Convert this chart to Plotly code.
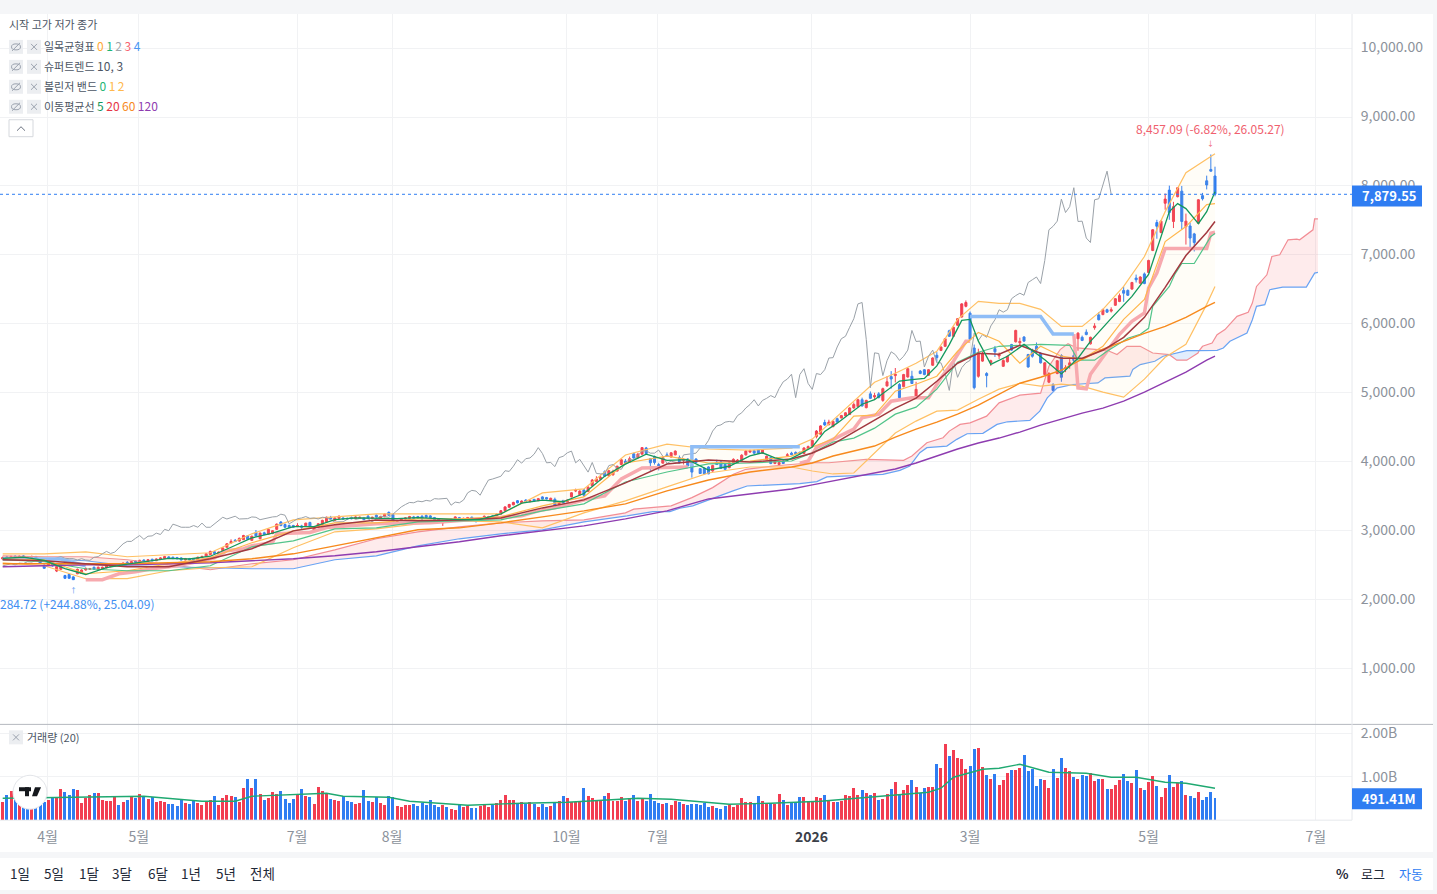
# Grafico azionario con indicatori (candele, ichimoku, supertrend, bollinger, medie) + volumi
import plotly.graph_objects as go

W, H = 1437, 894
PANE_RIGHT = 1352
MAIN_TOP, MAIN_BOTTOM, VOL_BOTTOM = 12, 724, 820

# ============================================================
# 1. DATI
# ============================================================

opens = [
    2590, 2620, 2600, 2630, 2610, 2635, 2620, 2600, 2625, 2590,
    2500, 2500, 2530, 2415, 2440, 2350, 2365, 2330, 2375, 2380,
    2430, 2440, 2470, 2435, 2450, 2460, 2480, 2490, 2520, 2510,
    2540, 2530, 2560, 2545, 2575, 2555, 2585, 2565, 2585, 2595,
    2620, 2615, 2610, 2605, 2575, 2595, 2590, 2575, 2610, 2625,
    2655, 2695, 2665, 2710, 2760, 2820, 2860, 2850, 2870, 2925,
    2860, 2975, 2885, 2970, 2950, 2960, 3020, 3125, 3090, 3075,
    3075, 3060, 3070, 3070, 3120, 3010, 3050, 3090, 3130, 3190,
    3150, 3180, 3185, 3180, 3190, 3175, 3180, 3185, 3210, 3175,
    3225, 3180, 3205, 3265, 3235, 3095, 3150, 3170, 3180, 3200,
    3205, 3210, 3220, 3215, 3190, 3170, 3115, 3150, 3135, 3175,
    3190, 3160, 3170, 3195, 3170, 3150, 3180, 3180, 3215, 3195,
    3240, 3290, 3340, 3375, 3435, 3405, 3445, 3420, 3455, 3435,
    3490, 3480, 3440, 3455, 3385, 3440, 3420, 3490, 3575, 3520,
    3590, 3570, 3650, 3715, 3745, 3855, 3795, 3810, 3865, 3960,
    4010, 3995, 4115, 4060, 4110, 4200, 4045, 4075, 3960, 3980,
    4100, 4070, 4100, 4060, 4020, 4040, 3950, 4040, 3900, 3905,
    3925, 3866, 3985, 3995, 3960, 3915, 3985, 3985, 4015, 4100,
    4140, 4160, 4170, 4125, 4030, 4060, 3975, 3960, 4010, 4090,
    4125, 4135, 4135, 4120, 4190, 4220, 4365, 4400, 4570, 4540,
    4510, 4625, 4635, 4665, 4685, 4780, 4800, 4900, 4785, 4985,
    4940, 4985, 4890, 5100, 5235, 5250, 5120, 5090, 5230, 5240,
    4950, 5315, 5335, 5255, 5400, 5545, 5615, 5675, 5900, 5820,
    5980, 6100, 6255, 6155, 5650, 5240, 5460, 5280, 5435, 5640,
    5535, 5385, 5450, 5700, 5740, 5725, 5810, 5555, 5615, 5675,
    5575, 5265, 5155, 5120, 5280, 5540, 5345, 5400, 5540, 5785,
    5805, 5880, 5710, 5945, 6130, 6135, 6205, 6185, 6270, 6325,
    6485, 6485, 6505, 6665, 6590, 6725, 6745, 7065, 7470, 7325,
    7750, 7940, 7485, 7845, 7925, 7410, 7420, 7305, 7460, 7860,
    8075, 8240, 8145,
]
closes = [
    2610, 2600, 2625, 2610, 2630, 2615, 2600, 2625, 2600, 2530,
    2455, 2535, 2490, 2480, 2490, 2310, 2310, 2290, 2440, 2430,
    2450, 2450, 2440, 2470, 2470, 2490, 2500, 2520, 2505, 2530,
    2525, 2550, 2545, 2570, 2555, 2580, 2565, 2590, 2605, 2625,
    2600, 2595, 2595, 2575, 2595, 2575, 2570, 2615, 2625, 2665,
    2700, 2670, 2690, 2750, 2810, 2845, 2845, 2890, 2930, 2875,
    2920, 2925, 2965, 2945, 3020, 3000, 3095, 3075, 3050, 3050,
    3050, 3075, 3050, 3110, 3050, 3050, 3100, 3150, 3195, 3170,
    3185, 3210, 3170, 3170, 3175, 3200, 3195, 3160, 3175, 3195,
    3200, 3205, 3240, 3225, 3100, 3135, 3175, 3185, 3205, 3180,
    3185, 3170, 3195, 3190, 3160, 3125, 3130, 3130, 3165, 3200,
    3165, 3180, 3190, 3175, 3130, 3175, 3210, 3205, 3195, 3240,
    3290, 3345, 3380, 3410, 3405, 3430, 3420, 3440, 3430, 3465,
    3460, 3460, 3470, 3370, 3415, 3405, 3445, 3550, 3585, 3575,
    3515, 3630, 3735, 3750, 3775, 3790, 3870, 3860, 3935, 4030,
    3980, 4045, 4055, 4110, 4205, 4120, 3985, 3990, 3930, 4060,
    4080, 4130, 4155, 3985, 4035, 3940, 3850, 3990, 3830, 3825,
    3825, 3945, 3960, 3905, 3890, 3985, 4035, 4025, 4095, 4155,
    4160, 4125, 4125, 4170, 4080, 3975, 4010, 3990, 3975, 4100,
    4105, 4115, 4125, 4200, 4220, 4310, 4445, 4520, 4535, 4575,
    4585, 4575, 4670, 4710, 4780, 4830, 4900, 4810, 4890, 4920,
    4960, 4930, 5060, 5160, 5200, 5270, 4930, 5265, 5350, 5135,
    5050, 5280, 5265, 5335, 5505, 5510, 5665, 5785, 5820, 5950,
    6075, 6290, 6310, 5775, 5075, 5580, 5570, 5250, 5465, 5595,
    5555, 5470, 5530, 5620, 5905, 5745, 5750, 5375, 5530, 5620,
    5435, 5435, 5280, 5035, 5465, 5225, 5365, 5435, 5470, 5865,
    5760, 5845, 5805, 5970, 6060, 6205, 6170, 6205, 6365, 6410,
    6445, 6415, 6600, 6640, 6680, 6585, 6920, 7365, 7415, 7490,
    7810, 7615, 7700, 7975, 7485, 7490, 7245, 7180, 7800, 7815,
    8015, 8215, 7879.55,
]
highs = [
    2625, 2635, 2640, 2645, 2640, 2645, 2630, 2640, 2635, 2600,
    2510, 2545, 2540, 2490, 2500, 2360, 2375, 2340, 2450, 2440,
    2470, 2460, 2480, 2480, 2480, 2500, 2510, 2530, 2530, 2540,
    2560, 2560, 2570, 2580, 2585, 2590, 2595, 2600, 2615, 2635,
    2630, 2625, 2620, 2615, 2605, 2605, 2600, 2625, 2640, 2675,
    2710, 2705, 2700, 2760, 2820, 2875, 2880, 2900, 2940, 2935,
    2930, 3010, 2975, 2985, 3030, 3010, 3105, 3140, 3105, 3090,
    3085, 3110, 3085, 3115, 3130, 3060, 3110, 3160, 3205, 3215,
    3195, 3220, 3195, 3190, 3200, 3210, 3205, 3200, 3240, 3205,
    3235, 3215, 3250, 3280, 3245, 3140, 3185, 3195, 3215, 3215,
    3215, 3225, 3235, 3225, 3200, 3180, 3135, 3160, 3175, 3210,
    3200, 3190, 3200, 3205, 3180, 3185, 3220, 3215, 3225, 3250,
    3300, 3355, 3390, 3420, 3445, 3440, 3455, 3450, 3460, 3475,
    3500, 3490, 3480, 3480, 3425, 3445, 3455, 3560, 3610, 3585,
    3605, 3650, 3750, 3790, 3815, 3875, 3880, 3885, 3945, 4045,
    4040, 4075, 4130, 4130, 4210, 4215, 4055, 4090, 3985, 4070,
    4135, 4140, 4165, 4090, 4050, 4050, 3960, 4050, 3905, 3915,
    3935, 3955, 4030, 4020, 3975, 3995, 4050, 4040, 4110, 4165,
    4175, 4175, 4185, 4180, 4090, 4070, 4020, 4005, 4020, 4125,
    4145, 4150, 4150, 4210, 4235, 4320, 4460, 4530, 4610, 4610,
    4600, 4640, 4680, 4720, 4790, 4860, 4915, 4930, 4900, 5020,
    5000, 5010, 5075, 5240, 5315, 5360, 5140, 5275, 5365, 5320,
    5160, 5330, 5345, 5345, 5515, 5590, 5675, 5795, 5915, 5960,
    6085, 6300, 6340, 6180, 5700, 5640, 5600, 5300, 5480, 5680,
    5585, 5485, 5540, 5710, 5915, 5800, 5820, 5565, 5640, 5730,
    5590, 5445, 5300, 5140, 5475, 5560, 5400, 5500, 5620, 5880,
    5830, 5920, 5815, 6010, 6170, 6220, 6220, 6240, 6375, 6440,
    6540, 6500, 6610, 6715, 6690, 6745, 6930, 7375, 7510, 7500,
    7890, 8005, 7770, 7985, 8000, 7600, 7470, 7320, 7810, 7900,
    8150, 8457.09, 8280,
]
lows = [
    2580, 2590, 2590, 2600, 2600, 2605, 2590, 2595, 2590, 2520,
    2450, 2490, 2480, 2400, 2430, 2300, 2305, 2284.72, 2370, 2375,
    2420, 2430, 2430, 2425, 2445, 2455, 2470, 2480, 2495, 2500,
    2520, 2520, 2535, 2540, 2545, 2550, 2555, 2560, 2580, 2590,
    2590, 2590, 2585, 2570, 2570, 2570, 2565, 2570, 2600, 2620,
    2650, 2660, 2660, 2700, 2750, 2815, 2835, 2840, 2865, 2870,
    2855, 2910, 2875, 2935, 2945, 2950, 3010, 3065, 3040, 3040,
    3045, 3055, 3010, 3060, 3040, 3005, 3040, 3085, 3125, 3160,
    3145, 3170, 3165, 3160, 3165, 3170, 3170, 3155, 3170, 3170,
    3190, 3175, 3195, 3215, 3090, 3090, 3140, 3165, 3175, 3170,
    3175, 3160, 3190, 3185, 3150, 3120, 3070, 3125, 3130, 3170,
    3160, 3155, 3165, 3165, 3125, 3145, 3175, 3170, 3185, 3190,
    3235, 3285, 3335, 3370, 3395, 3400, 3410, 3415, 3425, 3430,
    3455, 3455, 3435, 3365, 3380, 3400, 3415, 3485, 3560, 3515,
    3490, 3560, 3645, 3705, 3730, 3785, 3790, 3800, 3860, 3955,
    3975, 3985, 4045, 4050, 4105, 4115, 3870, 3960, 3875, 3975,
    4070, 4060, 4095, 3975, 3960, 3935, 3770, 3985, 3825, 3815,
    3820, 3855, 3955, 3895, 3885, 3905, 3975, 3980, 4005, 4090,
    4130, 4115, 4115, 4115, 4025, 3965, 3965, 3955, 3970, 4085,
    4095, 4100, 4110, 4115, 4180, 4210, 4340, 4395, 4520, 4525,
    4500, 4570, 4630, 4660, 4680, 4770, 4790, 4800, 4775, 4910,
    4900, 4920, 4870, 5090, 5060, 5150, 4920, 5080, 5220, 5130,
    4910, 5270, 5255, 5245, 5390, 5450, 5605, 5665, 5810, 5810,
    5970, 6090, 6240, 5760, 5050, 5220, 5450, 5080, 5390, 5520,
    5490, 5375, 5440, 5610, 5730, 5680, 5740, 5365, 5510, 5570,
    5425, 5255, 5140, 5020, 5270, 5160, 5300, 5350, 5440, 5610,
    5750, 5835, 5700, 5915, 6050, 6125, 6160, 6165, 6260, 6315,
    6320, 6405, 6495, 6600, 6580, 6575, 6735, 7055, 7235, 7315,
    7655, 7510, 7390, 7835, 7370, 7150, 7100, 7050, 7450, 7790,
    7950, 8210, 7850,
]

# volumi in milioni
volume = [
    416, 578, 670, 554, 424, 308, 270, 270, 293, 347,
    416, 462, 531, 508, 716, 647, 578, 716, 693, 393,
    508, 578, 624, 624, 462, 439, 439, 554, 347, 416,
    462, 539, 508, 601, 554, 485, 524, 416, 439, 416,
    370, 370, 323, 485, 393, 370, 462, 393, 347, 416,
    462, 554, 347, 508, 578, 554, 531, 416, 739, 947,
    739, 947, 601, 462, 508, 647, 601, 670, 485, 393,
    485, 578, 716, 554, 531, 370, 762, 670, 624, 485,
    462, 439, 554, 439, 416, 370, 393, 693, 439, 416,
    531, 393, 347, 554, 531, 323, 300, 347, 347, 370,
    323, 393, 347, 462, 347, 300, 347, 300, 254, 231,
    347, 300, 323, 277, 277, 323,
    339, 300, 339, 393, 462, 578, 462, 462, 393,
    416, 370, 416, 370, 300, 370, 300, 323, 416, 439,
    554, 508, 416, 416, 439, 739, 554, 508, 439, 439,
    554, 624, 439, 439, 531, 439, 485, 578, 439, 485,
    439, 601, 439, 393, 370, 393, 347, 439, 416, 370,
    347, 370, 370, 347, 393, 300, 323, 277, 254, 323,
    347, 300, 347, 508, 416, 416, 370, 554, 439, 370,
    393, 370, 601, 462, 347, 416, 393, 531, 531, 439,
    439, 531, 508, 578, 462, 416, 416, 439, 578, 554,
    739, 578, 693, 624, 578, 624, 462, 485, 601, 716,
    878, 601, 693, 809, 924, 762, 624, 739, 762,
    762, 1294, 1201, 1756, 1478, 1617, 1432, 1409, 1178, 1247,
    1640, 1663, 1224, 1040, 947, 1063, 809, 924, 1086, 1155,
    1155, 1201, 1502, 1132, 1178, 785, 947, 924, 739, 1178,
    970, 1432, 1201, 1132, 993, 947, 1040, 1016, 1086, 901,
    947, 947, 716, 716, 809, 924, 1063, 901, 855, 1155,
    739, 693, 878, 1016, 785, 531, 739, 1040, 762, 855,
    901, 578, 554, 508, 647, 462, 531, 647, 491.41,
]

vol_ma_x = [0, 15, 34, 48, 56, 60, 72, 78, 82, 93, 98, 112, 125, 136, 153, 161, 175,
            185, 197, 209, 216, 223, 226, 229, 236, 240, 245, 252, 261, 267, 273, 280, 285, 292]
vol_ma = [506, 529, 552, 437, 437, 552, 598, 621, 552, 529, 437, 345, 391, 414, 506, 483, 368,
          391, 437, 529, 575, 644, 736, 989, 1173, 1196, 1288, 1104, 1081, 989, 989, 874, 851, 736]

# barre su cui leggo gli indicatori
line_x = [0, 10, 20, 30, 40, 50, 60, 70, 80, 90, 100, 110, 120, 130, 140, 150, 160, 170, 180, 190,
          195, 200, 205, 210, 215, 220, 225, 230, 235, 240, 245, 250, 255, 260, 265, 270, 275, 280, 285, 290, 292]

ma20 = [2579, 2564, 2521, 2477, 2477, 2593, 2738, 2998, 3085, 3157, 3143, 3157, 3186, 3331, 3447, 3693, 3968, 4025, 3996, 4040,
        4127, 4257, 4431, 4604, 4778, 4923, 5168, 5429, 5574, 5559, 5689, 5574, 5502, 5502, 5617, 5805, 6095, 6529, 6992, 7325, 7484]
ma60 = [2521, 2521, 2521, 2521, 2535, 2550, 2593, 2665, 2781, 2897, 3013, 3042, 3114, 3201, 3288, 3389, 3577, 3736, 3852, 3924,
        3982, 4083, 4156, 4228, 4358, 4474, 4575, 4691, 4821, 4980, 5139, 5226, 5328, 5487, 5632, 5747, 5863, 5964, 6095, 6254, 6312]
ma120 = [2477, 2492, 2506, 2506, 2521, 2535, 2564, 2593, 2636, 2694, 2767, 2839, 2926, 2998, 3070, 3172, 3288, 3461, 3534, 3606,
         3664, 3722, 3780, 3837, 3895, 3982, 4083, 4185, 4272, 4344, 4431, 4532, 4619, 4706, 4778, 4879, 5010, 5154, 5299, 5473, 5531]
bb_upper = [2665, 2665, 2694, 2622, 2651, 2680, 2955, 3157, 3201, 3244, 3244, 3244, 3244, 3548, 3606, 4098, 4257, 4185, 4170, 4199,
            4329, 4604, 4879, 5154, 5284, 5429, 5603, 6066, 6326, 6297, 6297, 6210, 5964, 5964, 6210, 6543, 6977, 7628, 8193, 8381, 8468]
bb_lower = [2535, 2492, 2304, 2304, 2419, 2463, 2477, 2752, 2984, 3027, 3100, 3143, 3128, 3042, 3259, 3432, 3635, 3837, 3924, 3924,
            3866, 3823, 3837, 4127, 4416, 4590, 4734, 4749, 4908, 5053, 5139, 5096, 5125, 5096, 5010, 4937, 5198, 5516, 5704, 6283, 6543]
tenkan = [2593, 2579, 2376, 2419, 2521, 2608, 2825, 2998, 3114, 3114, 3172, 3172, 3201, 3360, 3490, 3982, 4083, 3982, 4011, 4083,
          4214, 4329, 4662, 4677, 5024, 5125, 5241, 5603, 5877, 5747, 5429, 5675, 5531, 5487, 5675, 6066, 6355, 7194, 7411, 7729, 7744]

kijun_x = [0, 10, 20, 30, 40, 50, 60, 70, 80, 90, 100, 110, 120, 130, 140, 150, 160, 170, 180, 190,
           195, 200, 205, 210, 215, 220, 225, 230, 235, 240, 245, 250, 257, 259, 263, 266, 271, 274, 276, 277,
           281, 282.3, 284, 287, 291, 292]
kijun = [2579, 2550, 2448, 2419, 2419, 2492, 2767, 2853, 3027, 3042, 3128, 3143, 3157, 3288, 3389, 3707, 3852, 3968, 3982, 4011,
         4127, 4286, 4344, 4488, 4691, 4792, 5053, 5444, 5589, 5675, 5689, 5703, 5689, 5473, 5473, 5603, 5791, 5849, 5935, 6254,
         6543, 6717, 6876, 6876, 7267, 7310]

ma5_x = [0, 5, 10, 15, 20, 25, 30, 35, 40, 45, 50, 55, 60, 65, 70, 75, 80, 85, 90, 95, 100, 105, 110, 115,
         120, 125, 130, 135, 140, 145, 150, 155, 160, 165, 170, 175, 180, 183, 186, 189, 192, 195, 198, 201,
         204, 207, 210, 213, 216, 219, 222, 225, 228, 231, 233, 235, 238, 242, 246, 251, 255, 259, 262, 267,
         272, 276, 278, 281, 283, 285, 288, 290, 292]
ma5 = [2600, 2618, 2570, 2450, 2365, 2465, 2515, 2555, 2600, 2590, 2630, 2760, 2895, 2965, 3060, 3060, 3160, 3185, 3185, 3175, 3190, 3175, 3160, 3165,
       3245, 3400, 3445, 3420, 3540, 3790, 3965, 4110, 4020, 4030, 3880, 3935, 4085, 4130, 4055, 4020, 4110, 4215, 4440, 4560,
       4700, 4835, 4900, 5040, 5170, 5190, 5210, 5390, 5700, 6050, 6065, 5750, 5414, 5530, 5703, 5480, 5274, 5502, 5747, 6080,
       6398, 6716, 7093, 7628, 7744, 7672, 7455, 7628, 7918]

# nuvola ichimoku (prosegue nel futuro); 281 e 288.2 sono i punti in cui A e B si incrociano
senkou_a_x = [0, 10, 20, 30, 40, 50, 60, 70, 80, 90, 100, 110, 120, 130, 140, 150, 152, 161, 166, 171, 176, 179,
              185.5, 192, 195, 199, 208, 217, 219, 222.6, 226.5, 228, 230.6, 233, 237, 240, 245, 250, 252, 254.7,
              256.6, 258.7, 266, 268.4, 270.8, 274, 277, 281, 282.8, 285.2, 287.9, 288.2, 289, 291.3, 292.5, 294.4,
              297.3, 300, 301, 302, 304.5, 305.7, 307.6, 309.6, 311.7, 312.4, 315.6, 316, 316.8]
senkou_a = [2636, 2622, 2622, 2579, 2506, 2434, 2521, 2579, 2723, 2883, 2984, 3056, 3114, 3143, 3157, 3259, 3312, 3360, 3480, 3625, 3818, 3891,
            3939, 3972, 3986, 3986, 4036, 4021, 4083, 4276, 4348, 4445, 4542, 4565, 4662, 4855, 4966, 4995, 5386, 5627,
            5714, 5651, 5617, 5555, 5675, 5675, 5578, 5553, 5473, 5473, 5578, 5613, 5675, 5723, 5844, 5917,
            6109, 6167, 6302, 6543, 6712, 6977, 7002, 7219, 7228, 7219, 7364, 7523, 7523]
senkou_b_x = [0, 10, 20, 30, 40, 50, 60, 70, 80, 90, 100, 110, 120, 130, 140, 150.4, 156.6, 160.7, 163.1, 166.2, 171, 175.9,
              179.3, 184, 192, 196.1, 198.5, 212, 216.1, 218.5, 220.9, 222.6, 227.4, 229.8, 232.3, 236.1, 239.5, 242, 247.4,
              249.8, 251.6, 254, 257.8, 263.8, 265.5, 271.5, 272.2, 274, 277.5, 279.5, 281, 282.8, 285.2, 288.2, 292.5,
              294, 295.6, 299.7, 301, 302, 304, 305.2, 308.3, 314, 316, 316.8]
senkou_b = [2593, 2593, 2564, 2492, 2477, 2463, 2448, 2448, 2579, 2636, 2781, 2883, 2955, 3013, 3128, 3215, 3278, 3278, 3326, 3360, 3471, 3577,
            3649, 3659, 3683, 3712, 3780, 3818, 3876, 3939, 4131, 4204, 4228, 4325, 4406, 4412, 4542, 4580, 4600,
            4734, 4927, 5072, 5121, 5144, 5216, 5241, 5338, 5410, 5458, 5530, 5553, 5578, 5613, 5613, 5617,
            5651, 5747, 5868, 6061, 6254, 6278, 6496, 6533, 6533, 6736, 6746]
cloud_cuts = [-1, 281, 288.2, 317]

# supertrend: tratti rialzisti (rosa) e ribassisti (blu)
st_down_x = [[0, 14, 16, 20], [166, 166, 192], [233, 250, 253, 258]]
st_down = [[2590, 2590, 2550, 2492], [3924, 4218, 4218], [6106, 6106, 5853, 5853]]
st_up_x = [
    [20, 24, 28, 32, 36, 42, 48, 51, 54, 58, 60, 65, 66, 74, 78, 90, 103, 120, 125, 129, 133, 141, 145, 149, 154, 165],
    [192, 194, 196, 201, 205, 207, 211, 214, 219, 223, 226, 229, 232, 233],
    [258, 259, 261, 262, 266, 269, 272, 275, 276, 278, 280, 290, 291, 292],
]
st_up = [
    [2289, 2289, 2376, 2405, 2448, 2492, 2564, 2608, 2709, 2738, 2781, 2829, 2955, 2974, 3046, 3100, 3114, 3186, 3215, 3288, 3331, 3461, 3504, 3751, 3910, 3924],
    [3980, 4011, 4204, 4348, 4474, 4638, 4691, 4879, 4927, 4927, 5216, 5458, 5747, 5747],
    [5853, 5072, 5057, 5270, 5603, 5849, 6037, 6157, 6519, 6736, 7093, 7093, 7314, 7329],
]

last_close = 7879.55
high_bar, high_value = 291, 8457.09
low_bar, low_value = 17, 2284.72

price_ticks = [1000, 2000, 3000, 4000, 5000, 6000, 7000, 8000, 9000, 10000]
month_ticks = [10.8, 32.8, 70.9, 93.8, 135.8, 157.8, 194.8, 233, 276, 316.3]
month_labels = ["4월", "5월", "7월", "8월", "10월", "7월", '<span style="color:#3b4048"><b>2026</b></span>', "3월", "5월", "7월"]
range_buttons = ["1일", "5일", "1달", "3달", "6달", "1년", "5년", "전체"]
range_buttons_x = [20, 54, 89, 122, 158, 191, 226, 262]

RED = "#f23d51"
BLUE = "#2f7df2"
FONT = "Noto Sans CJK KR"
bars = list(range(len(closes)))


def px(x):
    return x / W


def py(y):
    return 1 - y / H


def label(x, y, text, size=11, color="#4b5563", anchor="left"):
    # le annotazioni a sinistra hanno un piccolo padding interno
    x_pos = x - 2 if anchor == "left" else x
    return dict(xref="paper", yref="paper", x=px(x_pos), y=py(y - 1.5), text=text, showarrow=False,
                xanchor=anchor, yanchor="middle", font=dict(size=size, color=color, family=FONT))


def num(color, text):
    return f'<span style="color:{color};font-size:12px">{text}</span>'


def box(x0, y0, x1, y1, fill, line=None, layer="above"):
    return dict(type="rect", xref="paper", yref="paper", x0=px(x0), x1=px(x1), y0=py(y0), y1=py(y1),
                fillcolor=fill, line=dict(width=1 if line else 0, color=line or fill), layer=layer)


def seg(x0, y0, x1, y1, color, width=1):
    return dict(type="line", xref="paper", yref="paper", x0=px(x0), x1=px(x1), y0=py(y0), y1=py(y1),
                line=dict(color=color, width=width), layer="above")


def close_button(x, y):
    return [box(x, y - 7, x + 14, y + 7, "#eceef1"),
            seg(x + 4, y - 3, x + 10, y + 3, "#9ca3af"), seg(x + 4, y + 3, x + 10, y - 3, "#9ca3af")]


def eye_button(x, y):
    return [box(x, y - 7, x + 14, y + 7, "#eceef1"),
            dict(type="circle", xref="paper", yref="paper", x0=px(x + 2.5), x1=px(x + 11.5), y0=py(y - 3), y1=py(y + 3),
                 line=dict(color="#9ca3af", width=1), layer="above"),
            seg(x + 3, y + 4, x + 11, y - 4, "#9ca3af")]


# ============================================================
# 2. NUVOLA E BANDE
# ============================================================

fig = go.Figure()

# riempimento della nuvola: rosa dove A sta sopra B, azzurro nel tratto in cui B sta sopra A
for k in range(len(cloud_cuts) - 1):
    lo, hi = cloud_cuts[k], cloud_cuts[k + 1]
    top = [(x, y) for x, y in zip(senkou_a_x, senkou_a) if lo <= x <= hi]
    bottom = [(x, y) for x, y in zip(senkou_b_x, senkou_b) if lo <= x <= hi]
    ring = top + bottom[::-1]
    fig.add_trace(go.Scatter(
        x=[p[0] for p in ring], y=[p[1] for p in ring],
        fill="toself", mode="none", hoverinfo="skip",
        fillcolor="rgba(70,150,245,0.16)" if k == 1 else "rgba(242,70,85,0.11)",
    ))

fig.add_trace(go.Scatter(x=senkou_a_x, y=senkou_a, mode="lines", line=dict(color="#f28d95", width=1.2)))
fig.add_trace(go.Scatter(x=senkou_b_x, y=senkou_b, mode="lines", line=dict(color="#69a3f3", width=1.2)))

# bollinger con fondo giallino
fig.add_trace(go.Scatter(x=line_x, y=bb_upper, mode="lines", line=dict(color="#ffc064", width=1.2)))
fig.add_trace(go.Scatter(x=line_x, y=bb_lower, mode="lines", line=dict(color="#ffc064", width=1.2),
                         fill="tonexty", fillcolor="rgba(255,225,140,0.07)"))

# ============================================================
# 3. CANDELE E LINEE
# ============================================================

fig.add_trace(go.Candlestick(
    x=bars, open=opens, high=highs, low=lows, close=closes,
    increasing=dict(line=dict(color=RED, width=1), fillcolor=RED),
    decreasing=dict(line=dict(color=BLUE, width=1), fillcolor=BLUE),
    whiskerwidth=0,
))

# linea ritardata: i prezzi di chiusura spostati indietro di 25 barre
fig.add_trace(go.Scatter(x=bars[:-25], y=closes[25:], mode="lines", line=dict(color="#9aa1a8", width=1)))

for xs, ys in zip(st_up_x, st_up):
    fig.add_trace(go.Scatter(x=xs, y=ys, mode="lines", line=dict(color="#f7a9ae", width=3.5)))
for xs, ys in zip(st_down_x, st_down):
    fig.add_trace(go.Scatter(x=xs, y=ys, mode="lines", line=dict(color="#8fbdf6", width=3.5)))

fig.add_trace(go.Scatter(x=line_x, y=tenkan, mode="lines", line=dict(color="#ffb74d", width=1.2)))
fig.add_trace(go.Scatter(x=kijun_x, y=kijun, mode="lines", line=dict(color="#52c48a", width=1.2)))
fig.add_trace(go.Scatter(x=line_x, y=ma120, mode="lines", line=dict(color="#8e3cb0", width=1.4)))
fig.add_trace(go.Scatter(x=line_x, y=ma60, mode="lines", line=dict(color="#f78a1d", width=1.4)))
fig.add_trace(go.Scatter(x=line_x, y=ma20, mode="lines", line=dict(color="#a3383f", width=1.5)))
fig.add_trace(go.Scatter(x=ma5_x, y=ma5, mode="lines", line=dict(color="#14985c", width=1.3)))

# ============================================================
# 4. VOLUMI
# ============================================================

fig.add_trace(go.Bar(
    x=bars, y=volume, width=0.72, yaxis="y2",
    marker=dict(color=[RED if c >= o else BLUE for o, c in zip(opens, closes)], line=dict(width=0)),
))
fig.add_trace(go.Scatter(x=vol_ma_x, y=vol_ma, mode="lines", yaxis="y2", line=dict(color="#1fa971", width=1.4)))

# ============================================================
# 5. CORNICE, ETICHETTE, PULSANTI
# ============================================================

shapes = [
    box(0, 12, 1433, 852, "white", layer="below"),
    box(0, 858, 1433, 890, "white", layer="below"),
    seg(0, MAIN_BOTTOM, W - 4, MAIN_BOTTOM, "#b4b8bf"),
    seg(PANE_RIGHT, MAIN_TOP, PANE_RIGHT, VOL_BOTTOM, "#e6e8ec"),
    seg(0, VOL_BOTTOM, PANE_RIGHT, VOL_BOTTOM, "#e6e8ec"),
    dict(type="line", xref="paper", yref="y", x0=0, x1=px(PANE_RIGHT), y0=last_close, y1=last_close,
         line=dict(color=BLUE, width=1, dash="dot"), layer="above"),
    box(PANE_RIGHT, 184, 1422, 205, BLUE),
    box(PANE_RIGHT, 788, 1422, 809, BLUE),
    box(9, 118, 33, 135, "white", line="#d5d8dd"),
    seg(17, 129, 21, 125, "#6b7280"), seg(21, 125, 25, 129, "#6b7280"),
    # logo
    dict(type="circle", xref="paper", yref="paper", x0=px(13), x1=px(47), y0=py(775), y1=py(809),
         fillcolor="white", line=dict(color="#e3e5e9", width=1), layer="above"),
    box(19, 787, 31, 791, "#15181d"), box(25, 787, 29, 796, "#15181d"),
    dict(type="path", xref="paper", yref="paper", fillcolor="#15181d", line=dict(width=0), layer="above",
         path=f"M {px(35)} {py(787)} L {px(41)} {py(787)} L {px(37)} {py(796)} L {px(32)} {py(796)} Z"),
]
for row_y in [45, 65, 85, 105]:
    shapes += eye_button(9, row_y) + close_button(27, row_y)
shapes += close_button(9, 737)

annotations = [
    label(9, 24, "시작 고가 저가 종가"),
    label(44, 45, "일목균형표 " + " ".join([num("#ffa833", "0"), num("#1eb574", "1"), num("#a0a5ac", "2"),
                                         num("#f7636f", "3"), num("#4a97f5", "4")])),
    label(44, 65, "슈퍼트렌드 " + num("#4b5563", "10, 3")),
    label(44, 85, "볼린저 밴드 " + " ".join([num("#1eb574", "0"), num("#ffb84d", "1"), num("#ffb84d", "2")])),
    label(44, 105, "이동평균선 " + " ".join([num("#14985c", "5"), num("#e53445", "20"),
                                         num("#f78a1d", "60"), num("#8e3cb0", "120")])),
    label(27, 738, "거래량 (20)"),
    label(1389, 195.5, "<b>7,879.55</b>", size=13, color="white", anchor="center"),
    label(1389, 799.5, "<b>491.41M</b>", size=13, color="white", anchor="center"),
    dict(x=high_bar, y=high_value, yshift=26, text=f"{high_value:,.2f} (-6.82%, 26.05.27)", showarrow=False,
         font=dict(size=12, color="#f0606e", family=FONT)),
    dict(x=high_bar, y=high_value, yshift=11, text="↓", showarrow=False, font=dict(size=7, color="#f0606e", family=FONT)),
    dict(x=low_bar, y=low_value, yshift=-10, text="↑", showarrow=False, font=dict(size=7, color="#4a90f0", family=FONT)),
    label(0, 604, "284.72 (+244.88%, 25.04.09)", size=12, color="#3f8ff2"),
    label(1342, 874.5, "<b>%</b>", size=13, color="#1f2937", anchor="center"),
    label(1373, 874.5, "로그", size=13, color="#1f2937", anchor="center"),
    label(1411, 874.5, "자동", size=13, color=BLUE, anchor="center"),
]
for name, x in zip(range_buttons, range_buttons_x):
    annotations.append(label(x, 874.5, name, size=13.5, color="#1f2937", anchor="center"))

fig.update_layout(
    width=W, height=H, margin=dict(l=0, r=0, t=0, b=0),
    paper_bgcolor="#f5f6f8", plot_bgcolor="rgba(0,0,0,0)",
    showlegend=False, bargap=0, hovermode=False,
    font=dict(family=FONT),
    shapes=shapes, annotations=annotations,
    xaxis=dict(
        domain=[0, px(PANE_RIGHT)], range=[-0.65, 325], anchor="y2",
        tickmode="array", tickvals=month_ticks, ticktext=month_labels,
        tickfont=dict(size=14, color="#8c929b", family=FONT),
        ticks="outside", ticklen=4, tickcolor="rgba(0,0,0,0)",
        showgrid=True, gridcolor="#f1f2f4", gridwidth=1, zeroline=False, showline=False,
        rangeslider=dict(visible=False),
    ),
    yaxis=dict(
        domain=[py(MAIN_BOTTOM), py(MAIN_TOP)], range=[191, 10495], side="right", anchor="x",
        tickmode="array", tickvals=price_ticks, tickformat=",.2f",
        tickfont=dict(size=14, color="#8c929b", family=FONT),
        ticks="outside", ticklen=5, tickcolor="rgba(0,0,0,0)", ticklabelshift=-1,
        showgrid=True, gridcolor="#f1f2f4", gridwidth=1, zeroline=False, showline=False,
    ),
    yaxis2=dict(
        domain=[py(VOL_BOTTOM), py(MAIN_BOTTOM)], range=[0, 2207], side="right", anchor="x",
        tickmode="array", tickvals=[1000, 2000], ticktext=["1.00B", "2.00B"],
        tickfont=dict(size=14, color="#8c929b", family=FONT),
        ticks="outside", ticklen=5, tickcolor="rgba(0,0,0,0)",
        showgrid=True, gridcolor="#f1f2f4", gridwidth=1, zeroline=False, showline=False,
    ),
)

fig.write_html("out.html", config=dict(displayModeBar=False),
               post_script="document.body.style.margin='0';document.body.style.overflow='hidden';")
